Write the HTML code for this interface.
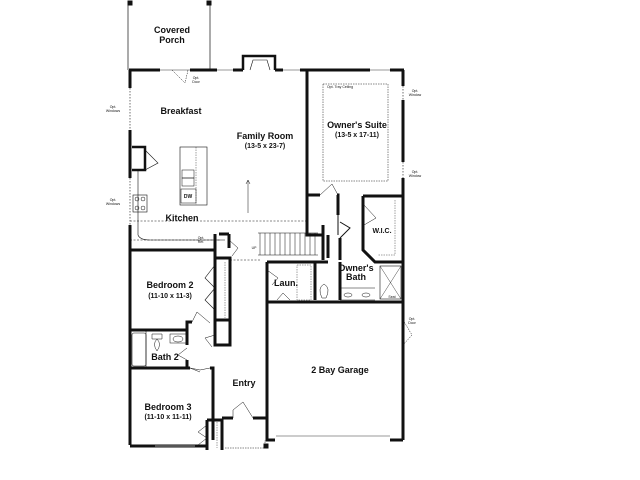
<!DOCTYPE html>
<html><head><meta charset="utf-8"><style>
html,body{margin:0;padding:0;background:#fff;width:640px;height:480px;overflow:hidden}
svg{display:block}
text{font-family:"Liberation Sans",sans-serif;fill:#111;text-anchor:middle}
.l{font-size:9px;font-weight:bold}
.d{font-size:7px;font-weight:bold}
.s{font-size:3.5px}
</style></head><body>
<svg width="640" height="480" viewBox="0 0 640 480" xmlns="http://www.w3.org/2000/svg">
<g fill="none" stroke="#111">
<!-- porch -->
<path d="M128 2 V70 M210 2 V70" stroke-width="0.7"/>
<rect x="128" y="1" width="4" height="4" fill="#111"/><rect x="207" y="1" width="4" height="4" fill="#111"/>
<!-- top wall -->
<path d="M129 70 H160 M190 70 H217 M233 70 H243 M275 70 H283 M300 70 H370 M390 70 H404" stroke-width="3"/>
<path d="M160 70 H190 M217 70 H233 M283 70 H300 M370 70 H390" stroke-width="1" stroke="#999"/>
<path d="M243 70 V56 H275 V70" stroke-width="2.5"/>
<path d="M250 70 L253 60 H267 L270 70" stroke-width="0.6"/>
<!-- opt door -->
<path d="M172 70 L185 83 L188 70" stroke-width="0.5" stroke-dasharray="1.5,1"/>
<!-- left wall -->
<path d="M130 70 V88 M130 130 V178 M130 225 V240" stroke-width="3"/>
<path d="M130 88 V130 M130 178 V225" stroke-width="0.6" stroke-dasharray="1.5,1.5"/>
<path d="M132 147 H145 V170 H132" stroke-width="2.5"/>
<path d="M145 150 L158 163 L145 170" stroke-width="0.6"/>
<path d="M130 247 V445" stroke-width="3"/>
<!-- left kitchen counter -->
<rect x="133" y="195" width="14" height="17" stroke-width="0.6"/>
<circle cx="137" cy="199" r="2" stroke-width="0.5"/><circle cx="143" cy="199" r="2" stroke-width="0.5"/>
<circle cx="137" cy="208" r="2" stroke-width="0.5"/><circle cx="143" cy="208" r="2" stroke-width="0.5"/>
<path d="M138 170 V235 Q140 240 150 240 H225" stroke-width="0.6"/>
<path d="M130 221 H307 M130 240 H220" stroke-width="0.5" stroke-dasharray="2,1.5"/>
<!-- island -->
<rect x="180" y="147" width="27" height="58" stroke-width="0.6"/>
<path d="M196 147 V205" stroke-width="0.4" stroke-dasharray="1.5,1"/>
<rect x="182" y="170" width="12" height="8" stroke-width="0.5"/><rect x="182" y="178" width="12" height="8" stroke-width="0.5"/>
<rect x="181" y="189" width="15" height="14" stroke-width="0.5"/>
<path d="M248 213 V180 M246 184 L248 180 L250 184" stroke-width="0.5"/>
<!-- owner suite walls -->
<path d="M307 70 V235 H323 V225" stroke-width="3"/>
<path d="M307 195 H320 M337 195 H338 V215" stroke-width="3"/>
<path d="M320 195 L332 184 L338 195" stroke-width="0.5"/>
<path d="M403 70 V86 M403 100 V162 M403 178 V440" stroke-width="3"/>
<path d="M403 86 V100 M403 162 V178" stroke-width="0.6" stroke-dasharray="1.5,1.5"/>
<rect x="323" y="84" width="65" height="97" stroke-width="0.5" stroke-dasharray="1.5,1"/>
<!-- WIC -->
<path d="M363 196 H402 M363 196 V250 L375 262 H402" stroke-width="3"/>
<path d="M395 200 V255 H378" stroke-width="0.4" stroke-dasharray="1.5,1"/>
<path d="M364 205 L376 218 L364 225" stroke-width="0.5"/>
<path d="M338 215 V235 M340 222 L350 228 L340 238" stroke-width="1"/>
<path d="M340 238 V260" stroke-width="3"/>
<!-- stairs -->
<g stroke-width="0.5"><path d="M258 233 H318 M258 255 H318"/>
<path d="M260 233V255M265 233V255M270 233V255M275 233V255M280 233V255M285 233V255M290 233V255M295 233V255M300 233V255M305 233V255M310 233V255M315 233V255"/></g>
<path d="M323 235 V260 M328 235 V258" stroke-width="3"/>
<path d="M232 235 V262 H265 V258" stroke-width="0"/>
<!-- hall / bedroom2 closets -->
<path d="M215 234 V264 M219 234 H229 M229 234 V248" stroke-width="3"/>
<path d="M229 240 L238 248 L232 256" stroke-width="0.5"/>
<path d="M130 250 H215" stroke-width="3"/>
<path d="M130 240 V250" stroke-width="3"/>
<path d="M230 260 H260" stroke-width="0.5" stroke-dasharray="2,1.5"/>
<path d="M215 258 V320 H230 V258 H215" stroke-width="3"/>
<path d="M225 262 V318" stroke-width="0.4" stroke-dasharray="1.5,1"/>
<path d="M215 265 L205 278 L215 288 L205 300 L215 310" stroke-width="0.6"/>
<path d="M130 330 H187 V322 H192" stroke-width="3"/>
<path d="M215 320 V345 H230 V320" stroke-width="3"/>
<path d="M192 322 L197 312 L210 323 M215 335 L205 338 L212 347" stroke-width="0.5"/>
<!-- bath 2 -->
<rect x="132" y="333" width="14" height="33" rx="2" stroke-width="0.6"/>
<path d="M146 330 V368" stroke-width="0.6"/>
<path d="M152 334 h10 v5 h-10z M157 339 q-5 5 0 12 q5 -7 0 -12" stroke-width="0.5"/>
<rect x="170" y="334" width="16" height="9" stroke-width="0.5"/><ellipse cx="178" cy="339" rx="5" ry="3" stroke-width="0.5"/>
<path d="M187 330 V345 M187 360 V368" stroke-width="3"/>
<path d="M187 348 L178 355 L187 360" stroke-width="0.5"/>
<path d="M130 368 H190 M210 368 H213 V440" stroke-width="3"/>
<path d="M190 368 L200 370 L210 368 M190 368 L200 372" stroke-width="0.5"/>
<!-- bedroom3 closet -->
<path d="M207 420 H222 V450 M207 420 V450" stroke-width="3"/>
<path d="M217 422 V448" stroke-width="0.4" stroke-dasharray="1.5,1"/>
<path d="M207 425 L198 432 L207 438 L198 445" stroke-width="0.5"/>
<path d="M130 446 H207" stroke-width="3"/>
<path d="M155 446 H195" stroke-width="1" stroke="#999"/>
<!-- entry porch -->
<path d="M222 418 H233 M253 418 H267" stroke-width="3"/>
<path d="M233 418 V410 L243 402 L253 418" stroke-width="0.5"/>
<path d="M225 448 H265 V440" stroke-width="0.5" stroke-dasharray="1.5,1"/>
<rect x="264" y="444" width="4" height="4" fill="#111"/>
<!-- laundry & garage -->
<path d="M267 262 H328 M267 262 V300 M267 300 V440 H275" stroke-width="3"/>
<path d="M267 270 L278 278 L272 285" stroke-width="0.5"/>
<rect x="297" y="265" width="14" height="35" stroke-width="0.4" stroke-dasharray="1.5,1"/>
<path d="M315 262 V300 M340 262 V300" stroke-width="3"/>
<path d="M322 298 q-5 -10 2 -14 q7 4 2 14z" stroke-width="0.5"/>
<path d="M340 288 H375 M340 300 H375" stroke-width="0.5"/>
<ellipse cx="348" cy="295" rx="4" ry="2" stroke-width="0.5"/><ellipse cx="366" cy="295" rx="4" ry="2" stroke-width="0.5"/>
<rect x="380" y="266" width="21" height="33" stroke-width="0.6"/>
<path d="M380 266 L401 299 M401 266 L380 299" stroke-width="0.4"/>
<path d="M267 302 H403" stroke-width="3"/>
<path d="M277 300 L283 293 L290 300" stroke-width="0.5"/>
<path d="M276 436 H390" stroke-width="1" stroke="#999"/>
<path d="M390 440 H403" stroke-width="3"/>
<path d="M403 320 L412 335 L403 345" stroke-width="0.5" stroke-dasharray="1.5,1"/>
</g>
<text class="l" x="172" y="33">Covered</text>
<text class="l" x="172" y="43">Porch</text>
<text class="l" x="181" y="114">Breakfast</text>
<text class="l" x="265" y="139">Family Room</text>
<text class="d" x="265" y="148">(13-5 x 23-7)</text>
<text class="l" x="357" y="128">Owner's Suite</text>
<text class="d" x="357" y="137">(13-5 x 17-11)</text>
<text class="l" x="182" y="221">Kitchen</text>
<text class="d" x="382" y="233">W.I.C.</text>
<text class="l" x="170" y="288">Bedroom 2</text>
<text class="d" x="170" y="298">(11-10 x 11-3)</text>
<text class="l" x="165" y="360">Bath 2</text>
<text class="l" x="286" y="286">Laun.</text>
<text class="l" x="356" y="271">Owner's</text>
<text class="l" x="356" y="280">Bath</text>
<text class="l" x="340" y="373">2 Bay Garage</text>
<text class="l" x="244" y="386">Entry</text>
<text class="l" x="168" y="410">Bedroom 3</text>
<text class="d" x="168" y="419">(11-10 x 11-11)</text>
<text class="d" x="188" y="198" style="font-size:5px">DW</text>
<text class="s" x="196" y="79">Opt.</text><text class="s" x="196" y="83">Door</text>
<text class="s" x="113" y="108">Opt.</text><text class="s" x="113" y="112">Windows</text>
<text class="s" x="113" y="201">Opt.</text><text class="s" x="113" y="205">Windows</text>
<text class="s" x="415" y="92">Opt.</text><text class="s" x="415" y="96">Window</text>
<text class="s" x="415" y="173">Opt.</text><text class="s" x="415" y="177">Window</text>
<text class="s" x="412" y="320">Opt.</text><text class="s" x="412" y="324">Door</text>
<text class="s" x="201" y="239">Opt.</text><text class="s" x="201" y="243">Ref.</text>
<text class="s" x="340" y="88">Opt. Tray Ceiling</text>
<text class="s" x="254" y="249">UP</text>
<text class="s" x="392" y="298">Seat</text>
</svg>
</body></html>
